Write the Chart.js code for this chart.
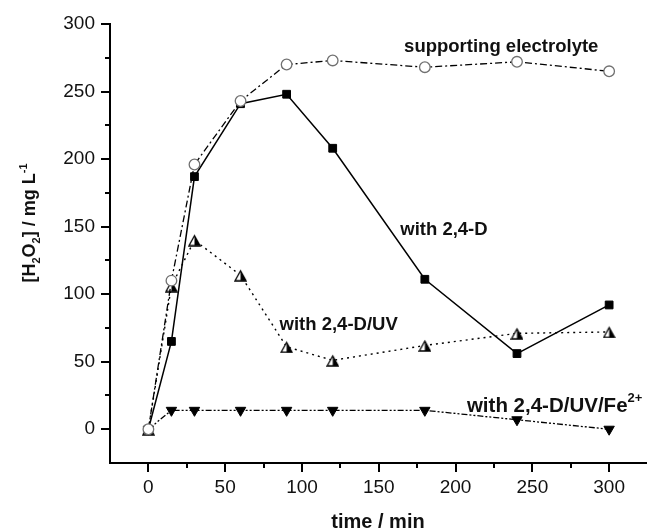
<!DOCTYPE html>
<html>
<head>
<meta charset="utf-8">
<script src="https://cdn.jsdelivr.net/npm/chart.js@4.4.1/dist/chart.umd.min.js"></script>
<style>
  html, body { margin: 0; padding: 0; background: #fff; }
</style>
</head>
<body>
<canvas id="h2o2Chart" width="653" height="530"></canvas>
<script>
// time (min) and H2O2 concentration (mg/L)
const times = [0, 15, 30, 60, 90, 120, 180, 240, 300];
const supportingElectrolyte = [0, 110, 196, 243, 270, 273, 268, 272, 265];
const with24D = [0, 65, 187, 241, 248, 208, 111, 56, 92];
const with24DUV = [0, 106, 140, 114, 61, 51, 62, 71, 72];
const with24DUVFe = [0, 14, 14, 14, 14, 14, 14, 7, 0];

const xTicks = [0, 50, 100, 150, 200, 250, 300];
const yTicks = [0, 50, 100, 150, 200, 250, 300];
const xMinorTicks = [25, 75, 125, 175, 225, 275];
const yMinorTicks = [25, 75, 125, 175, 225, 275];

const FONT = "'Liberation Sans', Arial, sans-serif";
const INK = '#111';

function toPoints(values) {
    return times.map((t, i) => ({ x: t, y: values[i] }));
}

// half white / half black triangle marker
function makeHalfTriangle(size) {
    const c = document.createElement('canvas');
    c.width = size;
    c.height = size;
    const g = c.getContext('2d');
    const pad = 1;
    g.beginPath();
    g.moveTo(size / 2, pad + 1);
    g.lineTo(size - pad, size - pad);
    g.lineTo(pad, size - pad);
    g.closePath();
    g.fillStyle = '#fff';
    g.fill();
    g.save();
    g.clip();
    g.fillStyle = '#000';
    g.fillRect(size / 2, 0, size / 2, size);
    g.restore();
    g.lineWidth = 1.3;
    g.strokeStyle = '#000';
    g.stroke();
    return c;
}

// draws text made of normal / sub / sup parts, returns width
function drawRich(ctx, parts, x, y, size, measureOnly) {
    let cx = x;
    parts.forEach(p => {
        const s = p.sub || p.sup ? Math.round(size * 0.62) : size;
        ctx.font = `bold ${s}px ${FONT}`;
        const dy = p.sub ? size * 0.28 : (p.sup ? -size * 0.45 : 0);
        if (!measureOnly) ctx.fillText(p.t, cx, y + dy);
        cx += ctx.measureText(p.t).width;
    });
    return cx - x;
}

const seriesLabels = [
    { parts: [{ t: 'supporting electrolyte' }], x: 166.5, y: 279.5, size: 18.5 },
    { parts: [{ t: 'with 2,4-D' }], x: 164, y: 143.5, size: 18.5 },
    { parts: [{ t: 'with 2,4-D/UV' }], x: 85.4, y: 73.5, size: 18.5 },
    { parts: [{ t: 'with 2,4-D/UV/Fe' }, { t: '2+', sup: true }], x: 207.4, y: 13, size: 20.5 }
];

const annotationsPlugin = {
    id: 'annotations',
    afterDraw(chart) {
        const { ctx, chartArea, scales: { x, y } } = chart;
        ctx.save();
        // minor ticks
        ctx.strokeStyle = '#000';
        ctx.lineWidth = 2;
        ctx.beginPath();
        xMinorTicks.forEach(v => {
            const px = Math.round(x.getPixelForValue(v));
            ctx.moveTo(px, chartArea.bottom);
            ctx.lineTo(px, chartArea.bottom + 5);
        });
        yMinorTicks.forEach(v => {
            const py = Math.round(y.getPixelForValue(v));
            ctx.moveTo(chartArea.left, py);
            ctx.lineTo(chartArea.left - 5, py);
        });
        ctx.stroke();

        // series labels
        ctx.fillStyle = INK;
        ctx.textBaseline = 'alphabetic';
        ctx.textAlign = 'left';
        seriesLabels.forEach(l => {
            drawRich(ctx, l.parts, x.getPixelForValue(l.x), y.getPixelForValue(l.y), l.size);
        });

        // y axis title
        const titleParts = [{ t: '[H' }, { t: '2', sub: true }, { t: 'O' }, { t: '2', sub: true },
            { t: '] / mg L' }, { t: '-1', sup: true }];
        ctx.translate(35, 223);
        ctx.rotate(-Math.PI / 2);
        const w = drawRich(ctx, titleParts, 0, 0, 18, true);
        drawRich(ctx, titleParts, -w / 2, 0, 18);
        ctx.restore();
    }
};

const ctx = document.getElementById('h2o2Chart').getContext('2d');
new Chart(ctx, {
    type: 'line',
    data: {
        datasets: [
            {
                label: 'supporting electrolyte',
                data: toPoints(supportingElectrolyte),
                borderColor: '#000',
                borderWidth: 1.3,
                borderDash: [7, 3, 2, 3],
                pointStyle: 'circle',
                pointRadius: 5.3,
                pointBorderColor: '#707070',
                pointBackgroundColor: '#fff',
                pointBorderWidth: 1.3
            },
            {
                label: 'with 2,4-D',
                data: toPoints(with24D),
                borderColor: '#000',
                borderWidth: 1.5,
                pointStyle: 'rect',
                pointRadius: 5.5,
                pointBorderColor: '#000',
                pointBackgroundColor: '#000',
                pointBorderWidth: 1
            },
            {
                label: 'with 2,4-D/UV',
                data: toPoints(with24DUV),
                borderColor: '#000',
                borderWidth: 1.4,
                borderDash: [2, 4],
                pointStyle: makeHalfTriangle(13)
            },
            {
                label: 'with 2,4-D/UV/Fe2+',
                data: toPoints(with24DUVFe),
                borderColor: '#000',
                borderWidth: 1.3,
                borderDash: [6, 2, 2, 2, 2, 2],
                pointStyle: 'triangle',
                rotation: 180,
                pointRotation: 180,
                pointRadius: 6,
                pointBorderColor: '#000',
                pointBackgroundColor: '#000',
                pointBorderWidth: 1
            }
        ]
    },
    options: {
        responsive: false,
        animation: false,
        devicePixelRatio: 1,
        layout: { padding: { top: 24, right: 0, bottom: 0, left: 0 } },
        plugins: {
            legend: { display: false },
            tooltip: { enabled: false }
        },
        scales: {
            x: {
                type: 'linear',
                min: -25,
                max: 324,
                afterBuildTicks: s => { s.ticks = xTicks.map(v => ({ value: v })); },
                afterFit: s => { s.height = 67; },
                ticks: {
                    font: { family: FONT, size: 19 },
                    color: INK,
                    padding: 4,
                    maxRotation: 0
                },
                grid: {
                    drawOnChartArea: false,
                    drawTicks: true,
                    tickLength: 9,
                    color: '#000',
                    lineWidth: 2
                },
                border: { color: '#000', width: 2 },
                title: {
                    display: true,
                    text: 'time / min',
                    color: INK,
                    font: { family: FONT, size: 20, weight: 'bold', lineHeight: 0.75 },
                    padding: { top: 0, bottom: 0 }
                }
            },
            y: {
                type: 'linear',
                min: -25,
                max: 300,
                afterBuildTicks: s => { s.ticks = yTicks.map(v => ({ value: v })); },
                afterFit: s => { s.width = 110; },
                ticks: {
                    font: { family: FONT, size: 19 },
                    color: INK,
                    padding: 6
                },
                grid: {
                    drawOnChartArea: false,
                    drawTicks: true,
                    tickLength: 9,
                    color: '#000',
                    lineWidth: 2
                },
                border: { color: '#000', width: 2 }
            }
        }
    },
    plugins: [annotationsPlugin]
});
</script>
</body>
</html>
